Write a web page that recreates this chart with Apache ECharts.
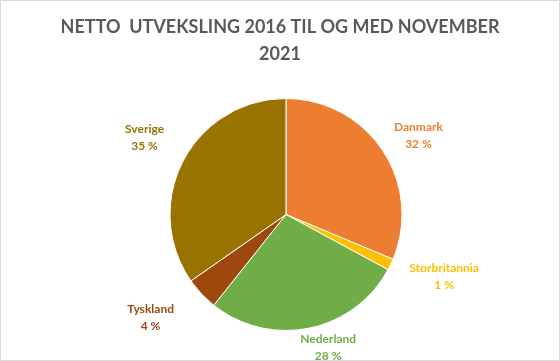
<!DOCTYPE html>
<html>
<head>
<meta charset="utf-8">
<script src="https://cdn.jsdelivr.net/npm/echarts@6/dist/echarts.min.js"></script>
<style>html,body{margin:0;padding:0;background:#fff}#c{width:560px;height:361px}</style>
</head>
<body>
<div id="c"></div>
<script>
// Data
var categories = ['Danmark', 'Storbritannia', 'Nederland', 'Tyskland', 'Sverige'];
var values = [31.3, 1.6, 27.8, 4.6, 34.7];
var percentLabels = ['32 %', '1 %', '28 %', '4 %', '35 %'];

// Style
var colors = ['#ED7D31', '#FFC000', '#70AD47', '#9E480E', '#997300'];
var labelDist = [154, 170, 140, 170, 161];
var labelAngleShift = [3, -4, -6, 6, 1];
var CX = 286, CY = 214.5, R = 116;

var total = values.reduce(function (a, b) { return a + b; }, 0);
function midAngle(i) {
  var s = 0;
  for (var k = 0; k < i; k++) s += values[k];
  return (s + values[i] / 2) / total * 360;
}

var chart = echarts.init(document.getElementById('c'), null, { renderer: 'canvas' });
chart.setOption({
  backgroundColor: '#ffffff',
  animation: false,
  title: {
    text: 'NETTO  UTVEKSLING 2016 TIL OG MED NOVEMBER\n2021',
    left: 'center',
    top: 9,
    textStyle: { fontFamily: 'Lato', fontWeight: 'bold', fontSize: 18, color: '#595959', lineHeight: 27 }
  },
  graphic: [{
    type: 'rect', shape: { x: 0.5, y: 0.5, width: 559, height: 360 },
    style: { fill: 'none', stroke: '#d9d9d9', lineWidth: 1 }, silent: true
  }],
  series: [{
    type: 'pie',
    center: [CX, CY],
    radius: R,
    startAngle: 90,
    clockwise: true,
    avoidLabelOverlap: false,
    itemStyle: { borderColor: '#ffffff', borderWidth: 1 },
    labelLine: { show: false },
    label: {
      show: true,
      position: 'outside',
      fontFamily: 'Lato',
      fontWeight: 'bold',
      fontSize: 12,
      lineHeight: 17,
      formatter: function (p) { return p.name + '\n' + percentLabels[p.dataIndex]; }
    },
    labelLayout: function (p) {
      var i = p.dataIndex;
      var a = (midAngle(i) + labelAngleShift[i]) * Math.PI / 180;
      return {
        x: CX + labelDist[i] * Math.sin(a),
        y: CY - labelDist[i] * Math.cos(a),
        align: 'center',
        verticalAlign: 'middle'
      };
    },
    data: categories.map(function (c, i) {
      return { name: c, value: values[i], itemStyle: { color: colors[i] }, label: { color: colors[i] } };
    })
  }]
});
</script>
</body>
</html>
